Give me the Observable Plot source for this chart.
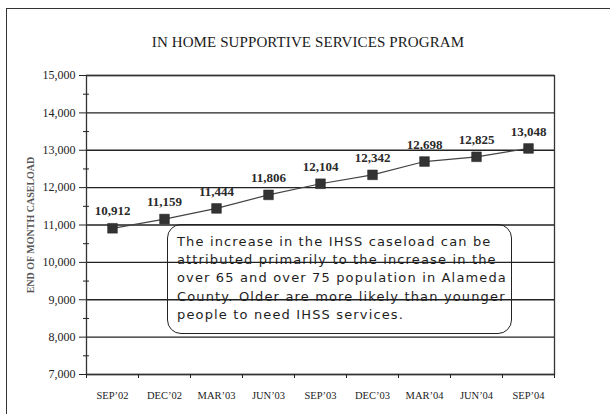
<!DOCTYPE html>
<html>
<head>
<meta charset="utf-8">
<script src="https://cdn.jsdelivr.net/npm/d3@7"></script>
<script src="https://cdn.jsdelivr.net/npm/@observablehq/plot@0.6"></script>
<style>
  html, body { margin: 0; padding: 0; background: #fff; overflow: hidden; }
  #wrap { position: relative; width: 610px; height: 414px; overflow: hidden; }
  #border { position: absolute; left: 6px; top: 8px; width: 640px; height: 440px; border: 1.5px solid #333; box-sizing: border-box; }
  #chart { position: absolute; left: 0; top: 0; }
  #title { position: absolute; left: 0; width: 616px; top: 34px; text-align: center;
           font: 15px/16.6px "Liberation Serif", serif; color: #1a1a1a; letter-spacing: 0.1px; }
  #note { position: absolute; left: 167px; top: 223.5px; width: 345px; height: 110px; box-sizing: border-box;
          border: 1.5px solid #222; border-radius: 14px; padding: 8px 0 0 9px;
          font: 13px/18.4px "DejaVu Sans", sans-serif; letter-spacing: 1.15px; color: #1e1e1e; white-space: pre; }
</style>
</head>
<body>
<div id="wrap">
  <div id="border"></div>
  <div id="chart"></div>
  <div id="title">IN HOME SUPPORTIVE SERVICES PROGRAM</div>
  <div id="note"></div>
</div>
<script>
const months = ["SEP’02","DEC’02","MAR’03","JUN’03","SEP’03","DEC’03","MAR’04","JUN’04","SEP’04"];
const caseload = [10912, 11159, 11444, 11806, 12104, 12342, 12698, 12825, 13048];
const yTicks = [7000, 8000, 9000, 10000, 11000, 12000, 13000, 14000, 15000];
const yMinorTicks = [7500, 8500, 9500, 10500, 11500, 12500, 13500, 14500];
const yLabel = "END OF MONTH CASELOAD";
const noteLines = [
  "The increase in the IHSS caseload can be",
  "attributed primarily to the increase in the",
  "over 65 and over 75 population in Alameda",
  "County. Older are more likely than younger",
  "people to need IHSS services."
];

const data = months.map((m, i) => ({pos: i + 0.5, month: m, value: caseload[i]}));
const bounds = d3.range(months.length + 1);
const fmt = d3.format(",");

const chart = Plot.plot({
  width: 610,
  height: 414,
  marginTop: 75,
  marginBottom: 40,
  marginLeft: 86,
  marginRight: 56,
  x: {domain: [0, months.length], axis: null},
  y: {domain: [7000, 15000], axis: null},
  style: {background: "transparent", fontFamily: "'Liberation Serif', serif", color: "#222"},
  marks: [
    Plot.gridY(yTicks, {stroke: "#222", strokeOpacity: 1, strokeWidth: 1.3}),
    Plot.frame({stroke: "#333", strokeWidth: 1.3}),
    Plot.axisY(yTicks, {tickSize: 7, tickPadding: 4, tickFormat: fmt, fontSize: 12, label: null}),
    Plot.axisY(yMinorTicks, {tickSize: 6, dx: 3, text: null, label: null}),
    Plot.axisX(bounds, {tickSize: 4, text: null, label: null}),
    Plot.axisX(data.map(d => d.pos), {tickSize: 0, tickPadding: 17, tickFormat: d => months[Math.floor(d)], fontSize: 10.5, label: null}),
    Plot.line(data, {x: "pos", y: "value", stroke: "#444", strokeWidth: 1.2}),
    Plot.dot(data, {x: "pos", y: "value", symbol: "square", r: 5.5, fill: "#333", stroke: "#222", strokeWidth: 0.5}),
    Plot.text(data, {x: "pos", y: "value", text: d => fmt(d.value), dy: -17, fontSize: 13, fontWeight: "bold", fill: "#2a2a2a"}),
    Plot.text([yLabel], {frameAnchor: "left", textAnchor: "middle", rotate: -90, dx: -56, fontSize: 10, fontWeight: "bold", fill: "#555"})
  ]
});
document.getElementById("chart").appendChild(chart);
document.getElementById("note").textContent = noteLines.join("\n");
</script>
</body>
</html>
